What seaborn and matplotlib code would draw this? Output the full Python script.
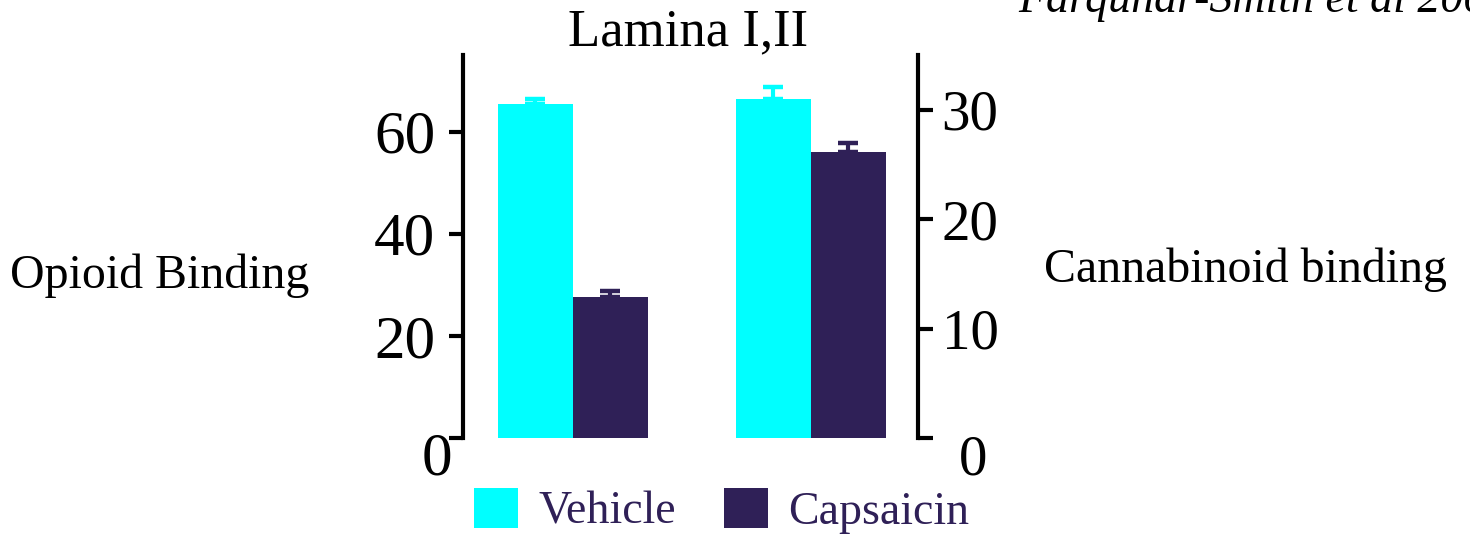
import matplotlib
matplotlib.use("Agg")
import matplotlib.pyplot as plt
import matplotlib.transforms as mtransforms
import pandas as pd
import seaborn as sns

# ---- data ----
groups = ["Opioid", "Cannabinoid"]
treatments = ["Vehicle", "Capsaicin"]
opioid_values = [65.5, 27.6]      # left axis
opioid_errors = [0.8, 1.1]
cannabinoid_values = [31.0, 26.1]  # right axis
cannabinoid_errors = [1.1, 0.9]
left_ticks = [20, 40, 60]
right_ticks = [10, 20, 30]

colors = {"Vehicle": "#00FFFF", "Capsaicin": "#2F2057"}
text_purple = "#2F2057"

sns.set_style("white")
plt.rcParams["font.family"] = ["Liberation Serif", "DejaVu Serif"]
plt.rcParams.update({"text.color": "black", "axes.labelcolor": "black",
                     "xtick.color": "black", "ytick.color": "black",
                     "axes.edgecolor": "black"})

W, H = 1470, 543
fig = plt.figure(figsize=(W / 100, H / 100), dpi=100)
ax = fig.add_axes([463 / W, 105 / H, 455 / W, 383 / H])
ax2 = ax.twinx()

df_op = pd.DataFrame({"group": "Opioid", "treatment": treatments,
                      "value": opioid_values, "err": opioid_errors})
df_cb = pd.DataFrame({"group": "Cannabinoid", "treatment": treatments,
                      "value": cannabinoid_values, "err": cannabinoid_errors})

for axis, df in ((ax, df_op), (ax2, df_cb)):
    sns.barplot(data=df, x="group", y="value", hue="treatment",
                order=groups, hue_order=treatments, palette=colors,
                width=0.63, errorbar=None, saturation=1, linewidth=0,
                legend=(axis is ax), ax=axis)
    # upper error bars in the bar colour
    for container, (_, row) in zip(axis.containers, df.iterrows()):
        for bar in container:
            xc = bar.get_x() + bar.get_width() / 2
            axis.errorbar(xc, row["value"], yerr=[[0], [row["err"]]],
                          fmt="none", ecolor=colors[row["treatment"]],
                          elinewidth=3, capsize=7.5, capthick=3.2, zorder=1)

ax.set_xlim(-0.462, 1.45)
ax.set_ylim(0, 75)
ax2.set_ylim(0, 35)

for a in (ax, ax2):
    a.set_xlabel("")
    a.set_ylabel("")
    a.set_xticks([])
    a.patch.set_visible(False)
    for s in ("top", "bottom"):
        a.spines[s].set_visible(False)
ax.spines["right"].set_visible(False)
ax2.spines["left"].set_visible(False)
ax.spines["left"].set_linewidth(3)
ax2.spines["right"].set_linewidth(3)

ax.set_yticks([0] + left_ticks)
ax.set_yticklabels([""] + [str(t) for t in left_ticks])
ax.tick_params(axis="y", direction="out", length=10, width=3,
               labelsize=44, pad=10, left=True, color="black")
ax2.set_yticks([0] + right_ticks)
ax2.set_yticklabels([""] + [str(t) for t in right_ticks])
ax2.tick_params(axis="y", direction="out", length=11, width=3,
                labelsize=41, pad=6, right=True, color="black")

# zero labels sit below the axis baseline
tl = mtransforms.blended_transform_factory(ax.transAxes, ax.transData)
ax.text(-0.057, -7.2, "0", transform=tl, ha="center", va="baseline",
        fontsize=44, clip_on=False)
tr = mtransforms.blended_transform_factory(ax2.transAxes, ax2.transData)
ax2.text(1.122, -3.3, "0", transform=tr, ha="center", va="baseline",
         fontsize=41, clip_on=False)

# axis names written horizontally beside each axis
fig.text(160 / W, 1 - 288 / H, "Opioid Binding", ha="center",
         va="baseline", fontsize=34.5)
fig.text(1245 / W, 1 - 282 / H, "Cannabinoid binding", ha="center",
         va="baseline", fontsize=34.5)

fig.text(688 / W, 1 - 45 / H, "Lamina I,II", ha="center", va="baseline",
         fontsize=38)
fig.text(1018 / W, 1 - 12 / H, "Farquhar-Smith et al 2000", ha="left",
         va="baseline", fontsize=33, style="italic")

sns.move_legend(ax, "center", bbox_to_anchor=(0.569, -0.19), ncol=2,
                frameon=False, title=None, fontsize=33,
                handlelength=0.95, handleheight=0.95, handletextpad=0.45,
                columnspacing=1.05, labelcolor=text_purple)

fig.savefig("out.png", dpi=100)
